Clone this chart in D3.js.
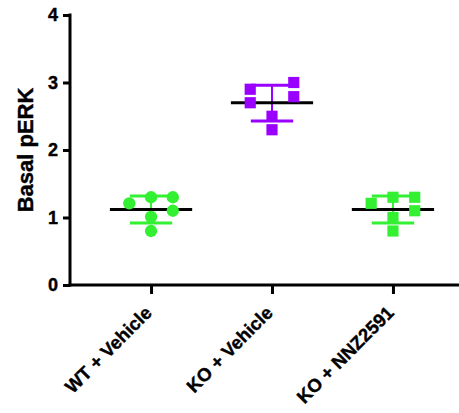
<!DOCTYPE html>
<html>
<head>
<meta charset="utf-8">
<script src="https://cdn.jsdelivr.net/npm/d3@7"></script>
<style>
  html, body { margin: 0; padding: 0; background: #fff; }
  svg { display: block; }
  svg text { font-family: "Liberation Sans", Arial, sans-serif; font-weight: bold; fill: #000;
             stroke: #000; stroke-width: 0.4px; }
</style>
</head>
<body>
<div id="chart"></div>
<script>
// groups on the x axis
const groups = ["WT + Vehicle", "KO + Vehicle", "KO + NNZ2591"];
const shapes = ["circle", "square", "square"];
const colors = ["#33f033", "#9900ff", "#33f033"];

// individual values per group
const wtVehicle = [1.21, 1.30, 1.30, 1.10, 1.01, 0.80];
const koVehicle = [2.90, 3.00, 2.79, 2.70, 2.50, 2.30];
const koNNZ     = [1.21, 1.30, 1.30, 1.10, 1.00, 0.80];
// scatter column of each point (-1 left, 0 centre, 1 right)
const dodgeWT  = [-1, 0, 1, 1, 0, 0];
const dodgeKO  = [-1, 1, 1, -1, 0, 0];
const dodgeNNZ = [-1, 0, 1, 1, 0, 0];

// mean and SD lines
const means = [1.12, 2.70, 1.12];
const sdUp  = [1.32, 2.96, 1.32];
const sdLow = [0.92, 2.43, 0.92];

const yTicks = [0, 1, 2, 3, 4];

const values = [wtVehicle, koVehicle, koNNZ];
const dodges = [dodgeWT, dodgeKO, dodgeNNZ];

const width = 459, height = 413;
const svg = d3.select("#chart").append("svg")
  .attr("width", width).attr("height", height);

const y = d3.scaleLinear().domain([0, 4]).range([285, 15]);
const x = d3.scalePoint().domain(groups).range([70, 474]).padding(0.67);
const step = x.step();

const dx = step * 0.18;     // spacing of scatter columns
const meanW = step * 0.34;  // half width of mean line
const sdW = step * 0.175;   // half width of SD cap

// error bars
groups.forEach((g, i) => {
  const cx = x(g);
  const eb = svg.append("g");
  eb.append("line")
    .attr("x1", cx).attr("x2", cx)
    .attr("y1", y(sdUp[i])).attr("y2", y(sdLow[i]))
    .attr("stroke", colors[i]).attr("stroke-width", 2);
  [sdUp[i], sdLow[i]].forEach(v => {
    eb.append("line")
      .attr("x1", cx - sdW).attr("x2", cx + sdW)
      .attr("y1", y(v)).attr("y2", y(v))
      .attr("stroke", colors[i]).attr("stroke-width", 3);
  });
});

// mean lines (markers go over them)
groups.forEach((g, i) => {
  svg.append("line")
    .attr("x1", x(g) - meanW).attr("x2", x(g) + meanW)
    .attr("y1", y(means[i])).attr("y2", y(means[i]))
    .attr("stroke", "#000").attr("stroke-width", 3);
});

// points
groups.forEach((g, i) => {
  const pts = values[i].map((v, j) => ({ v, d: dodges[i][j] }));
  svg.append("g").selectAll("path")
    .data(pts)
    .join("path")
    .attr("transform", d => `translate(${x(g) + d.d * dx},${y(d.v)})`)
    .attr("d", d3.symbol(shapes[i] === "circle" ? d3.symbolCircle : d3.symbolSquare,
                         shapes[i] === "circle" ? 120 : 125))
    .attr("fill", colors[i]);
});

// y axis
const yAxis = svg.append("g")
  .attr("transform", "translate(70,0)")
  .call(d3.axisLeft(y).tickValues(yTicks).tickFormat(d3.format("d")).tickSize(7).tickPadding(5));
yAxis.select(".domain").attr("stroke-width", 3).attr("d", `M0,${y(4) - 1.5}V${y(0) + 1.5}`);
yAxis.selectAll(".tick line").attr("stroke-width", 3);
yAxis.selectAll(".tick text").attr("font-size", 18);

// x axis
const xAxis = svg.append("g")
  .attr("transform", `translate(0,${y(0)})`)
  .call(d3.axisBottom(x).tickSize(9).tickFormat(""));
xAxis.select(".domain").attr("stroke-width", 3).attr("d", `M68.5,0H${width}`);
xAxis.selectAll(".tick line").attr("stroke-width", 3);

// rotated category labels
svg.append("g").selectAll("text")
  .data(groups)
  .join("text")
  .attr("transform", d => `translate(${x(d) + 2},${y(0) + 29}) rotate(-45)`)
  .attr("text-anchor", "end")
  .attr("font-size", 18.5)
  .text(d => d);

// y label
svg.append("text")
  .attr("transform", `translate(33,${(y(0) + y(4)) / 2}) rotate(-90)`)
  .attr("text-anchor", "middle")
  .attr("font-size", 22)
  .text("Basal pERK");
</script>
</body>
</html>
